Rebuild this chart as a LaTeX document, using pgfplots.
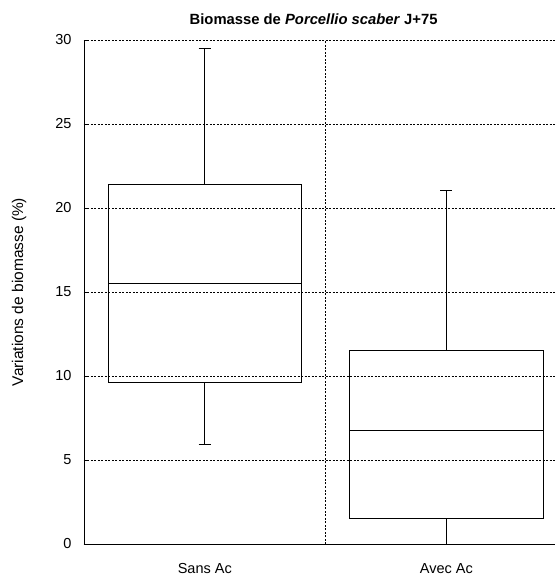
\documentclass[border=0pt]{standalone}
\usepackage{fontspec}
\setmainfont{Liberation Sans}
\usepackage{pgfplots}
\pgfplotsset{compat=1.18}
\usepgfplotslibrary{statistics}
\begin{document}
\begin{tikzpicture}
\path[use as bounding box] (-84pt,-35pt) rectangle (471pt,544pt);
\begin{axis}[
  at={(0,0)}, anchor=south west,
  scale only axis, width=471pt, height=504pt,
  xmin=0.5, xmax=2.45, ymin=0, ymax=30,
  boxplot/draw direction=y,
  axis lines*=left,
  axis line style={black, line width=0.8pt},
  /pgf/number format/assume math mode=true,
  tick label style={font=\fontsize{14.5}{16}\selectfont},
  ytick={0,5,10,15,20,25,30},
  ymajorgrids,
  grid style={black, line width=0.6pt, dash pattern=on 2pt off 1.5pt},
  major tick length=4pt,
  ytick style={black, line width=0.6pt},
  yticklabel style={xshift=-9pt},
  xtick={1,2}, xticklabels={Sans Ac, Avec Ac},
  xtick style={draw=none},
  xticklabel style={yshift=-16pt},
  extra x ticks={1.5}, extra x tick labels={},
  extra x tick style={grid=major, major tick length=0pt},
  ylabel={Variations de biomasse (\%)},
  ylabel style={font=\fontsize{15.5}{18}\selectfont, at={(axis description cs:-0.138,0.5)}, anchor=center},
  title={\textbf{Biomasse de \textit{Porcellio scaber} J+75}},
  title style={font=\fontsize{14.8}{17}\selectfont, at={(axis description cs:0.4875,1)}, anchor=base, yshift=9pt},
  clip=false,
]
\addplot[black, line width=0.8pt, boxplot prepared={draw position=1,
  lower whisker=5.95, lower quartile=9.64, median=15.54,
  upper quartile=21.43, upper whisker=29.52,
  box extend=0.8, whisker extend=0.05}] coordinates {};
\addplot[black, line width=0.8pt, boxplot prepared={draw position=2,
  lower whisker=0, lower quartile=1.51, median=6.77,
  upper quartile=11.5, upper whisker=21.07,
  box extend=0.8, whisker extend=0.05}] coordinates {};
\end{axis}
\end{tikzpicture}
\end{document}
